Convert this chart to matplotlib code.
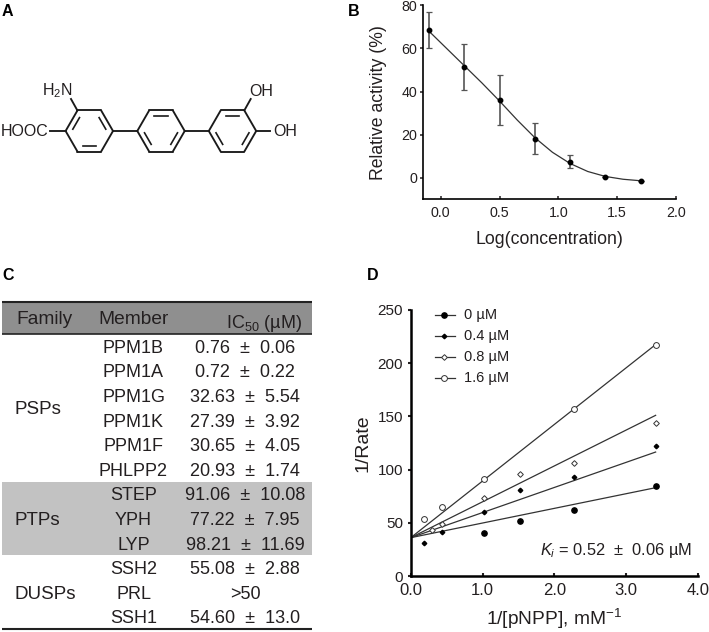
import numpy as np
import matplotlib
matplotlib.use("Agg")
import matplotlib.pyplot as plt

plt.rcParams['font.family'] = ['Liberation Sans', 'DejaVu Sans']
plt.rcParams['mathtext.fontset'] = 'custom'
plt.rcParams['mathtext.rm'] = 'Liberation Sans'
plt.rcParams['mathtext.it'] = 'Liberation Sans:italic'
plt.rcParams['mathtext.default'] = 'regular'

TXT = '#231f20'

# Panel B
log_conc = [-0.1, 0.2, 0.5, 0.8, 1.1, 1.4, 1.7]
activity = [68.4, 51.4, 36.1, 18.2, 7.5, 0.3, -1.4]
act_err = [8.3, 10.6, 11.5, 7.4, 3.0, 0.0, 0.0]
fit_x = [-0.1, 0.05, 0.2, 0.35, 0.5, 0.65, 0.8, 0.95, 1.1, 1.25, 1.4, 1.55, 1.7]
fit_y = [68.0, 60.0, 52.0, 44.0, 35.6, 26.8, 18.6, 11.8, 6.6, 2.9, 0.6, -0.7, -1.4]

# Panel C
families = ['PSPs', 'PTPs', 'DUSPs']
members = ['PPM1B', 'PPM1A', 'PPM1G', 'PPM1K', 'PPM1F', 'PHLPP2',
           'STEP', 'YPH', 'LYP', 'SSH2', 'PRL', 'SSH1']
ic50 = ['0.76 ± 0.06', '0.72 ± 0.22', '32.63 ± 5.54', '27.39 ± 3.92',
        '30.65 ± 4.05', '20.93 ± 1.74', '91.06 ± 10.08', '77.22 ± 7.95',
        '98.21 ± 11.69', '55.08 ± 2.88', '>50', '54.60 ± 13.0']

# Panel D
pnpp_x = [0.19, 0.44, 1.02, 1.52, 2.27, 3.41]
x_0 = [1.02, 1.52, 2.27, 3.41]
y_0 = [40.7, 51.4, 62.0, 84.6]
y_04 = [31.3, 41.4, 60.5, 80.8, 93.0, 122.0]
x_08 = [0.29, 0.44, 1.02, 1.52, 2.27, 3.41]
y_08 = [43.2, 48.6, 73.3, 95.5, 106.5, 143.5]
x_16 = [0.19, 0.44, 1.02, 2.27, 3.41]
y_16 = [53.3, 64.8, 90.9, 157.0, 217.4]
line_x = [0.0, 3.41]
line_0 = [36.0, 83.0]
line_04 = [36.0, 116.5]
line_08 = [36.0, 151.0]
line_16 = [36.0, 217.5]

W, H = 709, 632
fig = plt.figure(figsize=(W / 100, H / 100), dpi=100)

def px_axes(left, top, right, bottom, **kw):
    return fig.add_axes([left / W, 1 - bottom / H, (right - left) / W, (bottom - top) / H], **kw)

# overlay in pixel coordinates
ov = fig.add_axes([0, 0, 1, 1])
ov.set_xlim(0, W)
ov.set_ylim(H, 0)
ov.axis('off')

for lab, x, y in [('A', 2, 11), ('B', 348, 11), ('C', 2, 276), ('D', 367, 276)]:
    ov.text(x, y, lab, fontsize=11.5, fontweight='bold', ha='left', va='center', color='k')

# Panel A structure
def ring(cx, cy, doubles, r=23.7, inner=0.74):
    ang = np.deg2rad([240, 300, 0, 60, 120, 180])
    xs, ys = cx + r * np.cos(ang), cy + r * np.sin(ang)
    for i in range(6):
        j = (i + 1) % 6
        ov.plot([xs[i], xs[j]], [ys[i], ys[j]], color='#1a1a1a', lw=1.35, solid_capstyle='round')
    for i in doubles:
        j = (i + 1) % 6
        ax_, ay_ = cx + (xs[i] - cx) * inner, cy + (ys[i] - cy) * inner
        bx_, by_ = cx + (xs[j] - cx) * inner, cy + (ys[j] - cy) * inner
        t = 0.12
        ov.plot([ax_ + (bx_ - ax_) * t, bx_ - (bx_ - ax_) * t],
                [ay_ + (by_ - ay_) * t, by_ - (by_ - ay_) * t], color='#1a1a1a', lw=1.2)
    return xs, ys

ring(89.3, 131, [1, 3, 5])
ring(161, 131, [0, 2, 4])
ring(232.5, 131, [0, 2, 4])
for (x0, y0, x1, y1) in [(77.3, 110.3, 71, 99), (66, 131, 50, 131), (113, 131, 137.3, 131),
                         (184.7, 131, 208.8, 131), (244.4, 110.3, 250.7, 99), (256.2, 131, 270, 131)]:
    ov.plot([x0, x1], [y0, y1], color='#1a1a1a', lw=1.35)
ov.text(57, 91, 'H$_2$N', fontsize=11.5, ha='center', va='center', color=TXT)
ov.text(48, 132, 'HOOC', fontsize=11.5, ha='right', va='center', color=TXT)
ov.text(261.5, 91, 'OH', fontsize=11.5, ha='center', va='center', color=TXT)
ov.text(285, 132, 'OH', fontsize=11.5, ha='center', va='center', color=TXT)

# Panel C table
ov.fill_between([2, 312], 302, 334, color='#8f8f8f', lw=0)
ov.fill_between([2, 312], 481.7, 555, color='#c2c2c2', lw=0)
for y, lw in [(302, 1.5), (334, 1.2), (629, 1.5)]:
    ov.plot([2, 312], [y, y], color='#222222', lw=lw, solid_capstyle='butt')
TS = 13.0
ov.text(45, 319.5, 'Family', fontsize=13.8, ha='center', va='center', color=TXT)
ov.text(134, 319.5, 'Member', fontsize=13.8, ha='center', va='center', color=TXT)
ov.text(264, 323, 'IC$_{50}$ (µM)', fontsize=TS, ha='center', va='center', color=TXT)
row_top, row_h = 348.3, 24.6
for i, (m, v) in enumerate(zip(members, ic50)):
    y = row_top + i * row_h
    ov.text(133.5, y, m, fontsize=TS, ha='center', va='center', color=TXT)
    ov.text(245, y, v.replace(' ± ', '  ±  '), fontsize=TS, ha='center', va='center', color=TXT)
for fam, i in zip(families, [2.5, 7, 10]):
    ov.text(15, row_top + i * row_h, fam, fontsize=13.5, ha='left', va='center', color=TXT)

# Panel B
axb = px_axes(423.3, 5.3, 676, 199.3)
axb.patch.set_alpha(0)
axb.plot(fit_x, fit_y, color='#333333', lw=0.9)
axb.errorbar(log_conc, activity, yerr=act_err, fmt='o', ms=3.2, color='k', ecolor='#555555',
             elinewidth=1.2, capsize=2.0, capthick=0.9)
axb.set_xlim(-0.148, 2.0)
axb.set_ylim(-10, 80)
axb.set_xticks([0, 0.5, 1, 1.5, 2])
axb.set_xticklabels(['0.0', '0.5', '1.0', '1.5', '2.0'])
axb.set_yticks([0, 20, 40, 60, 80])
axb.tick_params(labelsize=10.3, width=1.1, length=2.5, pad=2, colors=TXT)
axb.tick_params(axis='x', direction='in', pad=5)
axb.set_xlabel('Log(concentration)', fontsize=12.7, color=TXT)
axb.set_ylabel('Relative activity (%)', fontsize=12.7, color=TXT)
axb.xaxis.set_label_coords(0.5, -0.163)
axb.yaxis.set_label_coords(-0.144, 0.5)
for s in ['top', 'right']:
    axb.spines[s].set_visible(False)
for s in ['left', 'bottom']:
    axb.spines[s].set_linewidth(1.2)

# Panel D
axd = px_axes(410.7, 310, 698, 576)
axd.patch.set_alpha(0)
for ly in (line_0, line_04, line_08, line_16):
    axd.plot(line_x, ly, color='#333333', lw=0.9)
sty = dict(color='#333333', lw=1.0, ls='none')
h0, = axd.plot(x_0, y_0, marker='o', ms=3.8, mfc='k', mec='k', **sty)
h1, = axd.plot(pnpp_x, y_04, marker='D', ms=2.3, mfc='k', mec='k', **sty)
h2, = axd.plot(x_08, y_08, marker='D', ms=2.9, mfc='white', mec='#333333', mew=0.7, **sty)
h3, = axd.plot(x_16, y_16, marker='o', ms=4.2, mfc='white', mec='#333333', mew=0.7, **sty)
axd.set_xlim(0, 4)
axd.set_ylim(0, 250)
axd.set_xticks([0, 1, 2, 3, 4])
axd.set_xticklabels(['0.0', '1.0', '2.0', '3.0', '4.0'])
axd.set_yticks([0, 50, 100, 150, 200, 250])
axd.tick_params(labelsize=11, width=1.5, length=2.5, pad=3, colors=TXT)
axd.tick_params(axis='x', direction='in', labelsize=12, pad=5)
axd.set_xlabel('1/[pNPP], mM$^{-1}$', fontsize=13.8, color=TXT)
axd.set_ylabel('1/Rate', fontsize=14, color=TXT)
axd.xaxis.set_label_coords(0.5, -0.117)
axd.yaxis.set_label_coords(-0.135, 0.5)
for s in ['top', 'right']:
    axd.spines[s].set_visible(False)
for s in ['left', 'bottom']:
    axd.spines[s].set_linewidth(1.8)
for h, lab, y in zip([h0, h1, h2, h3], ['0 µM', '0.4 µM', '0.8 µM', '1.6 µM'], [315, 335.7, 356.7, 377.7]):
    ov.plot([434.5, 454.5], [y, y], color='#333333', lw=0.9, zorder=3)
    ov.plot([444], [y], marker=h.get_marker(), ms=h.get_markersize(), mfc=h.get_markerfacecolor(),
            mec=h.get_markeredgecolor(), mew=h.get_markeredgewidth(), ls='none', zorder=4)
    ov.text(464, y, lab, fontsize=10.5, ha='left', va='center', color=TXT)
ov.text(540, 551, '$\\mathit{K}_{\\mathit{i}}$ = 0.52  ±  0.06 µM', fontsize=11.8, ha='left', va='center', color=TXT)

fig.savefig('out.png', dpi=100)
